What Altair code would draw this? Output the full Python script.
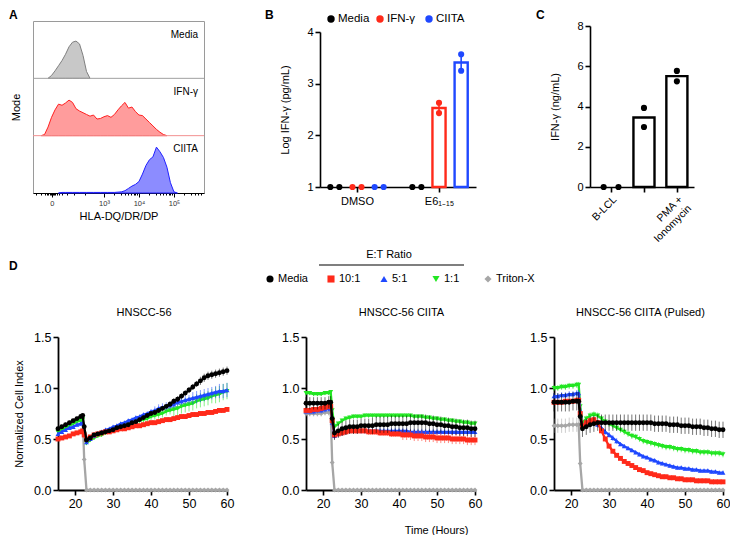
import math
import altair as alt
import pandas as pd

FONT = "Liberation Sans"
BLACK = "#000000"
RED = "#ff2a1a"
BLUE = "#1f48ff"
GREEN = "#22e622"
GRAY = "#a6a6a6"

# ---------------- Panel A: flow histograms (x in display decades) ----------------
a_bins = [1.2, 1.3, 1.4, 1.5, 1.6, 1.7, 1.8, 1.9, 2.0, 2.1,
          2.2, 2.3, 2.4, 2.5, 2.6, 2.7, 2.8, 2.9, 3.0, 3.1,
          3.2, 3.3, 3.4, 3.5, 3.6, 3.7, 3.8, 3.9, 4.0, 4.1,
          4.2, 4.3, 4.4, 4.5, 4.6, 4.7, 4.8, 4.9, 5.0, 5.1]
a_media = [0, 0, 0, 0.05, 0.13, 0.22, 0.31, 0.42, 0.55, 0.63,
           0.65, 0.60, 0.40, 0.12, 0, 0, 0, 0, 0, 0,
           0, 0, 0, 0, 0, 0, 0, 0, 0, 0,
           0, 0, 0, 0, 0, 0, 0, 0, 0, 0]
a_ifng = [0, 0.02, 0.15, 0.32, 0.45, 0.55, 0.53, 0.57, 0.62, 0.58,
          0.47, 0.43, 0.40, 0.37, 0.34, 0.36, 0.29, 0.30, 0.33, 0.35,
          0.32, 0.37, 0.45, 0.52, 0.58, 0.48, 0.50, 0.42, 0.36, 0.35,
          0.29, 0.23, 0.17, 0.11, 0.06, 0.02, 0, 0, 0, 0]
a_ciita = [0, 0, 0, 0, 0, 0, 0.01, 0.01, 0.01, 0.01,
           0.01, 0.01, 0.01, 0.01, 0.01, 0.01, 0.01, 0.01, 0.01, 0.01,
           0.01, 0.01, 0.015, 0.02, 0.04, 0.08, 0.12, 0.15, 0.20, 0.33,
           0.48, 0.58, 0.63, 0.80, 0.72, 0.62, 0.45, 0.18, 0.02, 0]
a_names = ["Media", "IFN-γ", "CIITA"]
a_fills = ["#c8c8c8", "#ff9c9c", "#8c8cff"]
a_lines = ["#7f7f7f", "#ff2020", "#2020ff"]
a_sep_colors = ["#f29090", "#a0a0a0"]
a_major = [1.51, 3.0, 4.0, 5.0]
a_major_labels = ["0", "10³", "10⁴", "10⁵"]
a_minor = [1.05, 1.2, 1.3, 1.36, 1.41, 1.45, 1.48, 1.54, 1.57, 1.61, 1.66, 1.72,
           1.81, 1.95, 2.15, 2.45, 3.30, 3.48, 3.60, 3.70, 3.78, 3.85, 3.90, 3.95,
           4.30, 4.48, 4.60, 4.70, 4.78, 4.85, 4.90, 4.95, 5.30, 5.48, 5.60, 5.70, 5.78]

# ---------------- Panel B ----------------
b_groups = ["DMSO", "E6₁₋₁₅"]
b_series = ["Media", "IFN-γ", "CIITA"]
b_colors = [BLACK, RED, BLUE]
b_media = [[1.0, 1.0], [1.0, 1.0]]
b_ifng = [[1.0, 1.0], [2.63, 2.43]]
b_ciita = [[1.0, 1.0], [3.57, 3.25]]

# ---------------- Panel C ----------------
c_groups = ["B-LCL", "E6-MITD", "PMA +\nIonomycin"]
c_vals = [[0.0, 0.0], [3.93, 2.98], [5.77, 5.25]]

# ---------------- Panel D ----------------
d_times = [15.5, 16.5, 17.5, 18.5, 19.5, 20.5, 21.5, 22.0, 22.4,
           23, 24, 25, 26, 27, 28, 29, 30, 31, 32,
           33, 34, 35, 36, 37, 38, 39, 40, 41, 42,
           43, 44, 45, 46, 47, 48, 49, 50, 51, 52,
           53, 54, 55, 56, 57, 58, 59, 60]
d_series = ["Media", "10:1", "5:1", "1:1", "Triton-X"]
d_colors = [BLACK, RED, BLUE, GREEN, GRAY]
d_shapes = ["circle", "square", "triangle-up", "triangle-down", "diamond"]
d_draw_order = ["Triton-X", "1:1", "5:1", "10:1", "Media"]

# HNSCC-56
d1_media = [0.60, 0.62, 0.64, 0.66, 0.68, 0.70, 0.72, 0.73, 0.62,
            0.49, 0.51, 0.54, 0.55, 0.56, 0.57, 0.58, 0.59, 0.61, 0.62,
            0.63, 0.64, 0.66, 0.67, 0.69, 0.71, 0.73, 0.75, 0.76, 0.78,
            0.80, 0.82, 0.84, 0.87, 0.89, 0.92, 0.95, 0.98, 1.01, 1.04,
            1.07, 1.10, 1.12, 1.13, 1.14, 1.15, 1.16, 1.17]
d1_r10 = [0.50, 0.51, 0.52, 0.53, 0.55, 0.56, 0.57, 0.58, 0.54,
          0.50, 0.52, 0.54, 0.55, 0.56, 0.57, 0.57, 0.58, 0.59, 0.60,
          0.60, 0.61, 0.62, 0.63, 0.63, 0.64, 0.65, 0.66, 0.66, 0.67,
          0.68, 0.69, 0.69, 0.70, 0.71, 0.72, 0.72, 0.73, 0.74, 0.74,
          0.75, 0.75, 0.76, 0.76, 0.77, 0.78, 0.78, 0.79]
d1_r5 = [0.55, 0.57, 0.59, 0.61, 0.62, 0.64, 0.65, 0.66, 0.55,
         0.47, 0.50, 0.53, 0.55, 0.57, 0.59, 0.60, 0.62, 0.63, 0.65,
         0.66, 0.68, 0.69, 0.71, 0.72, 0.74, 0.75, 0.77, 0.78, 0.80,
         0.81, 0.82, 0.83, 0.84, 0.86, 0.87, 0.88, 0.89, 0.90, 0.91,
         0.92, 0.93, 0.94, 0.95, 0.96, 0.97, 0.97, 0.98]
d1_r1 = [0.57, 0.59, 0.61, 0.63, 0.65, 0.67, 0.68, 0.69, 0.55,
         0.46, 0.49, 0.51, 0.53, 0.54, 0.56, 0.57, 0.59, 0.60, 0.61,
         0.63, 0.64, 0.65, 0.67, 0.68, 0.69, 0.70, 0.72, 0.73, 0.74,
         0.75, 0.77, 0.78, 0.79, 0.80, 0.82, 0.83, 0.84, 0.85, 0.87,
         0.88, 0.89, 0.90, 0.92, 0.93, 0.94, 0.96, 0.97]
d1_tx = [0.58, 0.60, 0.62, 0.64, 0.66, 0.68, 0.70, 0.71, 0.30,
         0, 0, 0, 0, 0, 0, 0, 0, 0, 0,
         0, 0, 0, 0, 0, 0, 0, 0, 0, 0,
         0, 0, 0, 0, 0, 0, 0, 0, 0, 0,
         0, 0, 0, 0, 0, 0, 0, 0]
d1_media_err = [0.02, 0.02, 0.02, 0.02, 0.02, 0.02, 0.02, 0.02, 0.02,
                0.02, 0.02, 0.02, 0.02, 0.02, 0.02, 0.02, 0.02, 0.02, 0.02,
                0.02, 0.02, 0.02, 0.02, 0.02, 0.02, 0.02, 0.02, 0.02, 0.02,
                0.02, 0.02, 0.03, 0.03, 0.03, 0.03, 0.03, 0.03, 0.03, 0.03,
                0.04, 0.04, 0.04, 0.04, 0.04, 0.04, 0.04, 0.04]
d1_r10_err = [0.02, 0.02, 0.02, 0.02, 0.02, 0.02, 0.02, 0.02, 0.02,
              0.02, 0.02, 0.02, 0.02, 0.02, 0.02, 0.02, 0.02, 0.02, 0.02,
              0.02, 0.02, 0.02, 0.02, 0.02, 0.02, 0.02, 0.02, 0.02, 0.02,
              0.02, 0.02, 0.02, 0.02, 0.02, 0.02, 0.02, 0.02, 0.02, 0.02,
              0.02, 0.02, 0.02, 0.02, 0.02, 0.02, 0.02, 0.02]
d1_r5_err = [0.02, 0.02, 0.02, 0.02, 0.02, 0.02, 0.02, 0.02, 0.02,
             0.02, 0.02, 0.02, 0.02, 0.02, 0.02, 0.02, 0.02, 0.02, 0.02,
             0.02, 0.02, 0.02, 0.02, 0.02, 0.02, 0.02, 0.02, 0.04, 0.04,
             0.04, 0.04, 0.04, 0.04, 0.04, 0.04, 0.04, 0.04, 0.06, 0.06,
             0.06, 0.06, 0.06, 0.06, 0.06, 0.07, 0.07, 0.07]
d1_r1_err = [0.02, 0.02, 0.02, 0.02, 0.02, 0.02, 0.02, 0.02, 0.02,
             0.02, 0.02, 0.02, 0.02, 0.02, 0.02, 0.02, 0.02, 0.02, 0.02,
             0.02, 0.02, 0.02, 0.04, 0.04, 0.04, 0.04, 0.04, 0.04, 0.04,
             0.04, 0.04, 0.04, 0.07, 0.07, 0.07, 0.07, 0.07, 0.07, 0.07,
             0.07, 0.07, 0.07, 0.07, 0.08, 0.08, 0.08, 0.08]
d1_tx_err = [0.02, 0.02, 0.02, 0.02, 0.02, 0.02, 0.02, 0.02, 0.05,
             0, 0, 0, 0, 0, 0, 0, 0, 0, 0,
             0, 0, 0, 0, 0, 0, 0, 0, 0, 0,
             0, 0, 0, 0, 0, 0, 0, 0, 0, 0,
             0, 0, 0, 0, 0, 0, 0, 0]

# HNSCC-56 CIITA
d2_media = [0.85, 0.85, 0.85, 0.85, 0.85, 0.85, 0.86, 0.86, 0.70,
            0.56, 0.58, 0.60, 0.61, 0.62, 0.62, 0.62, 0.63, 0.63, 0.63,
            0.63, 0.64, 0.64, 0.64, 0.64, 0.65, 0.65, 0.65, 0.65, 0.65,
            0.66, 0.66, 0.66, 0.66, 0.66, 0.65, 0.65, 0.64, 0.64, 0.63,
            0.63, 0.62, 0.62, 0.61, 0.61, 0.61, 0.60, 0.60]
d2_r10 = [0.78, 0.78, 0.79, 0.79, 0.80, 0.81, 0.82, 0.82, 0.68,
          0.54, 0.55, 0.56, 0.57, 0.58, 0.58, 0.58, 0.58, 0.58, 0.57,
          0.57, 0.57, 0.56, 0.56, 0.56, 0.55, 0.55, 0.55, 0.54, 0.54,
          0.54, 0.53, 0.53, 0.53, 0.52, 0.52, 0.52, 0.51, 0.51, 0.51,
          0.51, 0.50, 0.50, 0.50, 0.50, 0.49, 0.49, 0.49]
d2_r5 = [0.77, 0.77, 0.77, 0.78, 0.78, 0.79, 0.80, 0.80, 0.66,
         0.53, 0.55, 0.56, 0.57, 0.58, 0.58, 0.58, 0.58, 0.58, 0.58,
         0.58, 0.58, 0.58, 0.58, 0.58, 0.58, 0.58, 0.58, 0.58, 0.58,
         0.57, 0.57, 0.57, 0.57, 0.57, 0.57, 0.57, 0.57, 0.57, 0.57,
         0.57, 0.57, 0.57, 0.57, 0.57, 0.57, 0.57, 0.57]
d2_r1 = [0.95, 0.95, 0.94, 0.94, 0.94, 0.95, 0.95, 0.96, 0.78,
         0.62, 0.65, 0.68, 0.70, 0.71, 0.72, 0.72, 0.72, 0.73, 0.73,
         0.73, 0.73, 0.73, 0.73, 0.73, 0.73, 0.73, 0.73, 0.73, 0.73,
         0.73, 0.72, 0.72, 0.72, 0.71, 0.71, 0.70, 0.70, 0.69, 0.69,
         0.68, 0.68, 0.67, 0.67, 0.66, 0.66, 0.65, 0.65]
d2_tx = [0.75, 0.75, 0.75, 0.75, 0.75, 0.76, 0.76, 0.76, 0.27,
         0, 0, 0, 0, 0, 0, 0, 0, 0, 0,
         0, 0, 0, 0, 0, 0, 0, 0, 0, 0,
         0, 0, 0, 0, 0, 0, 0, 0, 0, 0,
         0, 0, 0, 0, 0, 0, 0, 0]
d2_media_err = [0.06, 0.06, 0.06, 0.06, 0.06, 0.06, 0.06, 0.06, 0.06,
                0.07, 0.07, 0.07, 0.07, 0.07, 0.07, 0.07, 0.07, 0.07, 0.07,
                0.08, 0.08, 0.08, 0.08, 0.08, 0.08, 0.08, 0.08, 0.08, 0.08,
                0.08, 0.08, 0.08, 0.08, 0.08, 0.08, 0.08, 0.08, 0.08, 0.08,
                0.08, 0.08, 0.08, 0.08, 0.08, 0.08, 0.08, 0.08]
d2_r10_err = [0.03, 0.03, 0.03, 0.03, 0.03, 0.03, 0.03, 0.03, 0.03,
              0.03, 0.03, 0.03, 0.03, 0.03, 0.03, 0.03, 0.03, 0.03, 0.03,
              0.03, 0.03, 0.03, 0.03, 0.03, 0.03, 0.03, 0.03, 0.05, 0.05,
              0.05, 0.05, 0.05, 0.05, 0.05, 0.05, 0.05, 0.05, 0.05, 0.05,
              0.05, 0.05, 0.05, 0.05, 0.05, 0.05, 0.05, 0.05]
d2_r5_err = [0.03, 0.03, 0.03, 0.03, 0.03, 0.03, 0.03, 0.03, 0.03,
             0.03, 0.03, 0.03, 0.03, 0.03, 0.03, 0.03, 0.03, 0.03, 0.03,
             0.03, 0.03, 0.03, 0.03, 0.03, 0.03, 0.03, 0.03, 0.03, 0.03,
             0.03, 0.03, 0.03, 0.03, 0.03, 0.03, 0.03, 0.03, 0.03, 0.03,
             0.03, 0.03, 0.03, 0.03, 0.03, 0.03, 0.03, 0.03]
d2_r1_err = [0.02, 0.02, 0.02, 0.02, 0.02, 0.02, 0.02, 0.02, 0.02,
             0.02, 0.02, 0.02, 0.02, 0.02, 0.02, 0.02, 0.02, 0.02, 0.02,
             0.02, 0.02, 0.02, 0.02, 0.02, 0.02, 0.02, 0.02, 0.02, 0.02,
             0.02, 0.02, 0.02, 0.02, 0.02, 0.02, 0.02, 0.02, 0.02, 0.02,
             0.02, 0.02, 0.02, 0.02, 0.02, 0.02, 0.02, 0.02]
d2_tx_err = [0.03, 0.03, 0.03, 0.03, 0.03, 0.03, 0.03, 0.03, 0.04,
             0, 0, 0, 0, 0, 0, 0, 0, 0, 0,
             0, 0, 0, 0, 0, 0, 0, 0, 0, 0,
             0, 0, 0, 0, 0, 0, 0, 0, 0, 0,
             0, 0, 0, 0, 0, 0, 0, 0]

# HNSCC-56 CIITA (Pulsed)
d3_media = [0.86, 0.86, 0.86, 0.86, 0.86, 0.87, 0.87, 0.87, 0.72,
            0.60, 0.62, 0.64, 0.65, 0.66, 0.66, 0.66, 0.66, 0.66, 0.66,
            0.66, 0.66, 0.66, 0.66, 0.66, 0.66, 0.66, 0.66, 0.66, 0.65,
            0.65, 0.65, 0.65, 0.64, 0.64, 0.64, 0.63, 0.63, 0.63, 0.62,
            0.62, 0.62, 0.61, 0.61, 0.60, 0.60, 0.59, 0.59]
d3_r10 = [0.86, 0.86, 0.86, 0.87, 0.87, 0.87, 0.88, 0.88, 0.75,
          0.63, 0.66, 0.68, 0.69, 0.66, 0.58, 0.50, 0.43, 0.38, 0.34,
          0.31, 0.28, 0.26, 0.24, 0.22, 0.20, 0.19, 0.17, 0.16, 0.15,
          0.14, 0.13, 0.13, 0.12, 0.12, 0.11, 0.11, 0.10, 0.10, 0.10,
          0.09, 0.09, 0.09, 0.09, 0.08, 0.08, 0.08, 0.08]
d3_r5 = [0.92, 0.92, 0.93, 0.93, 0.94, 0.94, 0.95, 0.95, 0.78,
         0.63, 0.66, 0.68, 0.67, 0.64, 0.61, 0.57, 0.54, 0.51, 0.48,
         0.45, 0.43, 0.41, 0.39, 0.37, 0.35, 0.33, 0.32, 0.30, 0.29,
         0.27, 0.26, 0.25, 0.24, 0.23, 0.22, 0.22, 0.21, 0.21, 0.20,
         0.20, 0.19, 0.19, 0.19, 0.18, 0.18, 0.17, 0.17]
d3_r1 = [1.00, 1.00, 1.01, 1.01, 1.02, 1.02, 1.03, 1.03, 0.82,
         0.66, 0.70, 0.73, 0.74, 0.73, 0.70, 0.67, 0.65, 0.63, 0.61,
         0.59, 0.57, 0.55, 0.53, 0.52, 0.50, 0.48, 0.47, 0.46, 0.45,
         0.44, 0.43, 0.42, 0.42, 0.41, 0.40, 0.40, 0.39, 0.39, 0.38,
         0.38, 0.37, 0.37, 0.37, 0.36, 0.36, 0.36, 0.35]
d3_tx = [0.63, 0.63, 0.63, 0.63, 0.64, 0.64, 0.64, 0.64, 0.26,
         0, 0, 0, 0, 0, 0, 0, 0, 0, 0,
         0, 0, 0, 0, 0, 0, 0, 0, 0, 0,
         0, 0, 0, 0, 0, 0, 0, 0, 0, 0,
         0, 0, 0, 0, 0, 0, 0, 0]
d3_media_err = [0.09, 0.09, 0.09, 0.09, 0.09, 0.09, 0.09, 0.09, 0.09,
                0.08, 0.08, 0.08, 0.08, 0.08, 0.08, 0.08, 0.08, 0.08, 0.08,
                0.08, 0.08, 0.08, 0.08, 0.08, 0.08, 0.08, 0.08, 0.08, 0.08,
                0.08, 0.08, 0.08, 0.08, 0.08, 0.08, 0.08, 0.08, 0.08, 0.08,
                0.08, 0.08, 0.08, 0.08, 0.08, 0.08, 0.08, 0.08]
d3_r10_err = [0.02, 0.02, 0.02, 0.02, 0.02, 0.02, 0.02, 0.02, 0.02,
              0.02, 0.02, 0.02, 0.02, 0.02, 0.02, 0.02, 0.02, 0.02, 0.02,
              0.02, 0.02, 0.02, 0.02, 0.02, 0.02, 0.02, 0.02, 0.02, 0.02,
              0.02, 0.02, 0.02, 0.02, 0.02, 0.02, 0.02, 0.02, 0.02, 0.02,
              0.02, 0.02, 0.02, 0.02, 0.02, 0.02, 0.02, 0.02]
d3_r5_err = [0.03, 0.03, 0.03, 0.03, 0.03, 0.03, 0.03, 0.03, 0.03,
             0.03, 0.03, 0.03, 0.03, 0.03, 0.03, 0.03, 0.03, 0.03, 0.03,
             0.02, 0.02, 0.02, 0.02, 0.02, 0.02, 0.02, 0.02, 0.02, 0.02,
             0.02, 0.02, 0.02, 0.02, 0.02, 0.02, 0.02, 0.02, 0.02, 0.02,
             0.02, 0.02, 0.02, 0.02, 0.02, 0.02, 0.02, 0.02]
d3_r1_err = [0.03, 0.03, 0.03, 0.03, 0.03, 0.03, 0.03, 0.03, 0.03,
             0.03, 0.03, 0.03, 0.03, 0.03, 0.03, 0.03, 0.03, 0.03, 0.03,
             0.03, 0.03, 0.03, 0.03, 0.03, 0.03, 0.03, 0.03, 0.03, 0.03,
             0.03, 0.03, 0.03, 0.03, 0.03, 0.03, 0.03, 0.03, 0.03, 0.03,
             0.03, 0.03, 0.03, 0.03, 0.03, 0.03, 0.03, 0.03]
d3_tx_err = [0.07, 0.07, 0.07, 0.07, 0.07, 0.07, 0.07, 0.07, 0.04,
             0, 0, 0, 0, 0, 0, 0, 0, 0, 0,
             0, 0, 0, 0, 0, 0, 0, 0, 0, 0,
             0, 0, 0, 0, 0, 0, 0, 0, 0, 0,
             0, 0, 0, 0, 0, 0, 0, 0]

d_panels = [
    ("HNSCC-56", [d1_media, d1_r10, d1_r5, d1_r1, d1_tx],
     [d1_media_err, d1_r10_err, d1_r5_err, d1_r1_err, d1_tx_err]),
    ("HNSCC-56 CIITA", [d2_media, d2_r10, d2_r5, d2_r1, d2_tx],
     [d2_media_err, d2_r10_err, d2_r5_err, d2_r1_err, d2_tx_err]),
    ("HNSCC-56 CIITA (Pulsed)", [d3_media, d3_r10, d3_r5, d3_r1, d3_tx],
     [d3_media_err, d3_r10_err, d3_r5_err, d3_r1_err, d3_tx_err]),
]
for _t, _m, _e in d_panels:
    for _l in _m + _e:
        assert len(_l) == len(d_times), (_t, len(_l))

# legend entry offsets (pixels, relative to the owning plot)
b_legend_x = [11, 60, 109]
b_legend_y = -2
d_legend_x = [-36, 25, 78, 130, 182]
d_legend_y = -58


# ---------------- helpers ----------------
def letter(ch, x, y):
    return alt.Chart(pd.DataFrame({"t": [ch]})).mark_text(
        align="left", baseline="top", fontSize=12, fontWeight="bold", font=FONT, color="black"
    ).encode(text="t:N", x=alt.value(x), y=alt.value(y))


def label(txt, x, y, size=11, align="center"):
    return alt.Chart(pd.DataFrame({"t": [txt]})).mark_text(
        align=align, baseline="middle", fontSize=size, font=FONT, color="black"
    ).encode(text="t:N", x=alt.value(x), y=alt.value(y))


def legend_layers(labels, colors, shapes, xs, y, sym_size, font_size, gap):
    out = []
    for lab, col, shp, x in zip(labels, colors, shapes, xs):
        df1 = pd.DataFrame({"t": [lab]})
        out.append(alt.Chart(df1).mark_point(filled=True, size=sym_size, shape=shp, color=col, opacity=1)
                   .encode(x=alt.value(x), y=alt.value(y)))
        out.append(label(lab, x + gap, y, font_size, "left"))
    return out


# ---------------- Panel A chart ----------------
a_sx = alt.Scale(domain=[0.97, 5.86], nice=False, zero=False)
a_sy = alt.Scale(domain=[0, 3], nice=False, zero=False)
major_test = "indexof([" + ",".join(str(v) for v in a_major) + "], datum.value) >= 0"
a_lab_expr = " : ".join(f"datum.value == {v} ? '{l}'" for v, l in zip(a_major, a_major_labels)) + " : ''"
a_axis_x = alt.Axis(values=sorted(a_major + a_minor), labelExpr=a_lab_expr, title="HLA-DQ/DR/DP",
                    tickSize={"condition": {"test": major_test, "value": 4}, "value": 2},
                    labelFontSize=7.5, labelColor="#333333", labelOverlap=False, labelFlush=False,
                    labelPadding=2, titlePadding=4, domainWidth=1, tickWidth=1, titleFontSize=11)
a_axis_y = alt.Axis(title="Mode", ticks=False, labels=False, domain=False, titlePadding=11.5, titleFontSize=11)

a_layers = []
for i, (name, vals) in enumerate(zip(a_names, [a_media, a_ifng, a_ciita])):
    row = 2 - i
    rows = []
    for k, (u, v) in enumerate(zip(a_bins, vals)):
        prev_v = vals[k - 1] if k > 0 else 0
        next_v = vals[k + 1] if k < len(vals) - 1 else 0
        if v > 0 or prev_v > 0 or next_v > 0:
            rows.append({"u": u, "top": row + v, "base": row})
    df = pd.DataFrame(rows)
    a_layers.append(
        alt.Chart(df).mark_area(fill=a_fills[i], stroke=a_lines[i], strokeWidth=1, fillOpacity=1,
                                interpolate="linear").encode(
            x=alt.X("u:Q", scale=a_sx, axis=a_axis_x),
            y=alt.Y("top:Q", scale=a_sy, axis=a_axis_y),
            y2="base:Q")
    )
sep_df = pd.DataFrame({"v": [1, 2], "c": a_sep_colors})
a_layers.append(alt.Chart(sep_df).mark_rule(strokeWidth=1).encode(
    y=alt.Y("v:Q", scale=a_sy, axis=a_axis_y), color=alt.Color("c:N", scale=None)))
lab_df = pd.DataFrame({"name": a_names, "ly": [2 + 0.76, 1 + 0.76, 0 + 0.76]})
a_layers.append(alt.Chart(lab_df).mark_text(align="right", baseline="middle", fontSize=10, font=FONT,
                                            color="black").encode(
    text="name:N", x=alt.value(165), y=alt.Y("ly:Q", scale=a_sy, axis=a_axis_y)))
a_layers.append(letter("A", -24, -11))
chart_a = alt.layer(*a_layers).properties(width=171, height=172,
                                          view=alt.ViewBackground(stroke="#9a9a9a", strokeWidth=1))

# ---------------- Panel B chart ----------------
b_dots, b_bars = [], []
for s, (name, reps_by_group) in enumerate(zip(b_series, [b_media, b_ifng, b_ciita])):
    for g, reps in enumerate(reps_by_group):
        center = g + (s - 1) * 0.27
        same = max(reps) - min(reps) < 1e-9
        for r, v in enumerate(reps):
            off = (r - 0.5) * 0.11 if same else 0.0
            b_dots.append({"series": name, "pos": center + off, "val": v})
        n = len(reps)
        mean = sum(reps) / n
        sd = math.sqrt(sum((v - mean) ** 2 for v in reps) / (n - 1))
        sem = sd / math.sqrt(n)
        if mean > 1.0 + 1e-9:
            b_bars.append({"series": name, "center": center, "x1": center - 0.08, "x2": center + 0.08,
                           "mean": mean, "lo": mean - sem, "hi": mean + sem, "base": 1.0})
b_dots = pd.DataFrame(b_dots)
b_bars = pd.DataFrame(b_bars)
b_sx = alt.Scale(domain=[-0.451, 1.451], nice=False, zero=False)
b_sy = alt.Scale(domain=[1, 4], range=[166, 11], nice=False, zero=False)
b_lab_expr = f"datum.value == 0 ? '{b_groups[0]}' : '{b_groups[1]}'"
b_axis_x = alt.Axis(values=[0, 1], labelExpr=b_lab_expr, title=None, tickSize=5, labelFontSize=11,
                    labelPadding=3, labelFlush=False, domainWidth=1.6, tickWidth=1.6)
b_axis_y = alt.Axis(values=[1, 2, 3, 4], format="d", title="Log IFN-γ (pg/mL)", titlePadding=16,
                    tickSize=5, labelFontSize=11, domainWidth=1.6, tickWidth=1.6)
b_stroke = alt.Stroke("series:N", scale=alt.Scale(domain=b_series, range=b_colors), legend=None)
chart_b = alt.layer(
    alt.Chart(b_bars).mark_rect(fill="white", strokeWidth=2.4).encode(
        x=alt.X("x1:Q", scale=b_sx, axis=b_axis_x), x2="x2:Q",
        y=alt.Y("mean:Q", scale=b_sy, axis=b_axis_y), y2="base:Q", stroke=b_stroke),
    alt.Chart(b_bars).mark_rule(strokeWidth=1.6).encode(
        x=alt.X("center:Q", scale=b_sx, axis=b_axis_x),
        y=alt.Y("lo:Q", scale=b_sy, axis=b_axis_y), y2="hi:Q", stroke=b_stroke),
    alt.Chart(b_dots).mark_circle(size=38, opacity=1).encode(
        x=alt.X("pos:Q", scale=b_sx, axis=b_axis_x),
        y=alt.Y("val:Q", scale=b_sy, axis=b_axis_y),
        color=alt.Color("series:N", scale=alt.Scale(domain=b_series, range=b_colors), legend=None)),
    *legend_layers(b_series, b_colors, ["circle"] * len(b_series), b_legend_x, b_legend_y, 55, 11.5, 7),
    letter("B", -55, -11),
).properties(width=156, height=166)

# ---------------- Panel C chart ----------------
c_dots, c_bars = [], []
for g, reps in enumerate(c_vals):
    same = max(reps) - min(reps) < 1e-9
    for r, v in enumerate(reps):
        off = (r - 0.5) * 0.45 if same else 0.0
        c_dots.append({"pos": g + off, "val": v})
    mean = sum(reps) / len(reps)
    if mean > 0:
        c_bars.append({"x1": g - 0.32, "x2": g + 0.32, "mean": mean, "base": 0.0})
c_dots = pd.DataFrame(c_dots)
c_bars = pd.DataFrame(c_bars)
c_sx = alt.Scale(domain=[-0.64, 2.52], nice=False, zero=False)
c_sy = alt.Scale(domain=[0, 8], range=[166, 5], nice=False)
_parts = []
for i, lab in enumerate(c_groups):
    pieces = lab.split("\n")
    txt = "'" + pieces[0] + "'" if len(pieces) == 1 else "[" + ", ".join("'" + p + "'" for p in pieces) + "]"
    _parts.append((i, txt))
c_lab_expr = " : ".join(f"datum.value == {i} ? {t}" for i, t in _parts[:-1]) + f" : {_parts[-1][1]}"
c_axis_x = alt.Axis(values=[0, 1, 2], labelExpr=c_lab_expr, title=None, tickSize=5, labelFontSize=10.5,
                    labelAngle=315, labelPadding=2, labelFlush=False, domainWidth=1.6, tickWidth=1.6)
c_axis_y = alt.Axis(values=[0, 2, 4, 6, 8], format="d", title="IFN-γ (ng/mL)", titlePadding=16,
                    tickSize=5, labelFontSize=11, domainWidth=1.6, tickWidth=1.6)
chart_c = alt.layer(
    alt.Chart(c_bars).mark_rect(fill="white", stroke="black", strokeWidth=2.4).encode(
        x=alt.X("x1:Q", scale=c_sx, axis=c_axis_x), x2="x2:Q",
        y=alt.Y("mean:Q", scale=c_sy, axis=c_axis_y), y2="base:Q"),
    alt.Chart(c_dots).mark_circle(size=38, opacity=1, color="black").encode(
        x=alt.X("pos:Q", scale=c_sx, axis=c_axis_x),
        y=alt.Y("val:Q", scale=c_sy, axis=c_axis_y)),
    letter("C", -54, -11),
).properties(width=104, height=166)

# ---------------- Panel D charts ----------------
D_W = 169
D1_SHIFT = 25  # first time-course panel starts further right than panel A
d_sy = alt.Scale(domain=[0, 1.5], nice=False, zero=False)
d_color_scale = alt.Scale(domain=d_series, range=d_colors)
d_shape_scale = alt.Scale(domain=d_series, range=d_shapes)
d_title_dx = [1.5, 11, 2]

d_charts = []
for p, (title, means, errs) in enumerate(d_panels):
    rows = []
    for name, m_list, e_list in zip(d_series, means, errs):
        for t, m, e in zip(d_times, m_list, e_list):
            rows.append({"series": name, "t": t, "m": m, "lo": max(m - e, 0), "hi": m + e})
    df = pd.DataFrame(rows)
    shift = D1_SHIFT if p == 0 else 0
    d_sx = alt.Scale(domain=[15.5, 60], range=[shift, shift + D_W], nice=False, zero=False)
    if p == 1:
        xaxis = alt.Axis(values=[20, 30, 40, 50, 60], title="Time (Hours)", titleX=130, titleY=40,
                         titleAlign="center", titleBaseline="middle", labelFontSize=12.5, tickSize=5,
                         labelFlush=False, domainWidth=1.8, tickWidth=1.6, titleFontSize=11)
    else:
        xaxis = alt.Axis(values=[20, 30, 40, 50, 60], title=None, labelFontSize=12.5, tickSize=5,
                         labelFlush=False, domainWidth=1.8, tickWidth=1.6)
    yaxis = alt.Axis(values=[0, 0.5, 1.0, 1.5], format=".1f", offset=-shift,
                     title="Normalized Cell Index" if p == 0 else None, titlePadding=9,
                     labelFontSize=12.5, tickSize=5, domainWidth=1.8, tickWidth=1.6, titleFontSize=11)
    layers = []
    for name in d_draw_order:
        sub = df[df["series"] == name]
        stroke = alt.Stroke("series:N", scale=d_color_scale, legend=None)
        layers.append(alt.Chart(sub).mark_rule(strokeWidth=1, opacity=0.55).encode(
            x=alt.X("t:Q", scale=d_sx, axis=xaxis),
            y=alt.Y("lo:Q", scale=d_sy, axis=yaxis), y2="hi:Q", stroke=stroke))
        layers.append(alt.Chart(sub).mark_line(strokeWidth=2.3).encode(
            x=alt.X("t:Q", scale=d_sx, axis=xaxis),
            y=alt.Y("m:Q", scale=d_sy, axis=yaxis), stroke=stroke))
        layers.append(alt.Chart(sub).mark_point(filled=True, size=24, opacity=1).encode(
            x=alt.X("t:Q", scale=d_sx, axis=xaxis),
            y=alt.Y("m:Q", scale=d_sy, axis=yaxis),
            color=alt.Color("series:N", scale=d_color_scale, legend=None),
            shape=alt.Shape("series:N", scale=d_shape_scale, legend=None)))
    layers.append(label(title, shift + D_W / 2 + d_title_dx[p], -24))
    if p == 0:
        layers.append(letter("D", -24, -76))
    if p == 1:
        layers.extend(legend_layers(d_series, d_colors, d_shapes, d_legend_x, d_legend_y, 50, 11, 8))
        layers.append(label("E:T Ratio", 83, -82))
        layers.append(alt.Chart(pd.DataFrame({"t": [0]})).mark_rule(color="#555555", strokeWidth=1.5).encode(
            x=alt.value(13), x2=alt.value(158), y=alt.value(-72)))
    d_charts.append(alt.layer(*layers).properties(width=D_W + shift, height=153))

RES = dict(color="independent", shape="independent", stroke="independent")

top_row = alt.hconcat(chart_a, chart_b, chart_c, spacing=60, bounds="full").resolve_scale(**RES)
d_row = alt.hconcat(*d_charts, spacing=79, bounds="flush").resolve_scale(**RES)

chart = alt.vconcat(top_row, d_row, spacing=4, bounds="full").resolve_scale(**RES).properties(
    padding=0
).configure(font=FONT).configure_view(stroke=None).configure_axis(
    labelFont=FONT, titleFont=FONT, labelColor="black", titleColor="black", domainColor="black",
    tickColor="black", titleFontWeight="normal", grid=False
)

chart.save("out.html", embed_options={"renderer": "svg", "actions": False})
